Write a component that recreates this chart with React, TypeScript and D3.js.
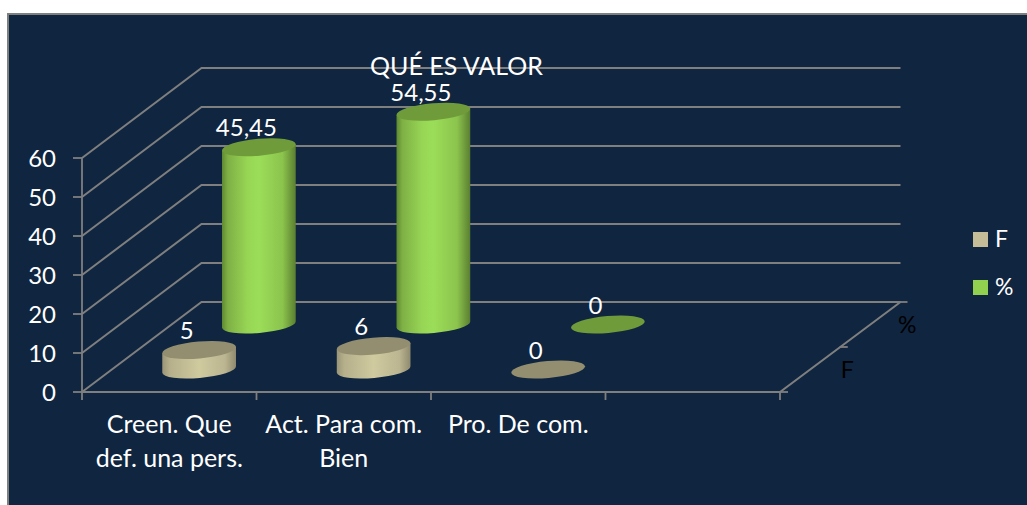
import React from 'react';
import { scaleBand, scaleLinear, line } from 'd3';

const categories = ['Creen. Que|def. una pers.', 'Act. Para com.|Bien', 'Pro. De com.', ' '];
const seriesNames = ['F', '%'];
const valuesF = [5, 6, 0];
const valuesPct = [45.45, 54.55, 0];
const yTicks = [0, 10, 20, 30, 40, 50, 60];

const W = 1027;
const H = 505;
const FONT = 'Lato, "Open Sans", sans-serif';
const GRID = '#7f7f7f';

// floor of the 3D box
const x0 = 82;
const x1 = 780;
const yBase = 392;
const yTop = 158;
const depthX = 119.5;
const depthY = 90;

const xScale = scaleBand<string>().domain(categories).range([x0, x1]);
const yScale = scaleLinear().domain([0, 60]).range([yBase, yTop]);
const zScale = scaleBand<string>().domain(seriesNames).range([0, 1]);

const path = line();
const rx = 37;
const ry = 8.5;
const tilt = -5;

const skins = {
  F: { top: '#938e70', grad: 'gradF', legend: '#c4bd97' },
  '%': { top: '#6f9b3a', grad: 'gradP', legend: '#92d050' },
};

const fmt = (v: number) => String(v).replace('.', ',');

const Cylinder = ({ cat, series, value }: { cat: string; series: string; value: number }) => {
  const z = zScale(series)! + zScale.bandwidth() / 2;
  const cx = xScale(cat)! + xScale.bandwidth() / 2 + z * depthX;
  const cy = yBase - z * depthY;
  const h = yBase - yScale(value);
  const dx = rx * Math.cos((tilt * Math.PI) / 180);
  const dy = rx * Math.sin((tilt * Math.PI) / 180);
  const skin = skins[series];
  const body =
    `M${cx - dx},${cy - dy - h}L${cx - dx},${cy - dy}` +
    `A${rx},${ry} ${tilt} 0 0 ${cx + dx},${cy + dy}` +
    `L${cx + dx},${cy + dy - h}Z`;
  return (
    <g>
      {value > 0 && <path d={body} fill={`url(#${skin.grad})`} />}
      <ellipse
        rx={rx}
        ry={ry}
        fill={skin.top}
        transform={`translate(${cx},${cy - h}) rotate(${tilt})`}
      />
      <text
        x={cx - 12.5}
        y={cy - h - 11}
        textAnchor="middle"
        fontSize={24}
        fill="#fff"
        fontFamily={FONT}
      >
        {fmt(value)}
      </text>
    </g>
  );
};

export default function App() {
  const labelled = categories.slice(0, 3);
  return (
    <svg
      width={W}
      height={H}
      style={{ position: 'absolute', left: 0, top: 0, display: 'block' }}
    >
      <defs>
        <linearGradient id="gradF" x1="0" x2="1" y1="0" y2="0">
          <stop offset="0" stopColor="#9a9578" />
          <stop offset="0.1" stopColor="#b5af8b" />
          <stop offset="0.5" stopColor="#d0ca9f" />
          <stop offset="0.85" stopColor="#bbb591" />
          <stop offset="1" stopColor="#8f8a6e" />
        </linearGradient>
        <linearGradient id="gradP" x1="0" x2="1" y1="0" y2="0">
          <stop offset="0" stopColor="#5f8a32" />
          <stop offset="0.08" stopColor="#7fb045" />
          <stop offset="0.35" stopColor="#97d655" />
          <stop offset="0.5" stopColor="#9bdd58" />
          <stop offset="0.82" stopColor="#8cc44e" />
          <stop offset="1" stopColor="#5a7f30" />
        </linearGradient>
      </defs>

      <rect x={8} y={14} width={W} height={H} fill="#10253f" stroke={GRID} strokeWidth={2} />

      {/* walls */}
      {yTicks.map((t) => {
        const y = yScale(t);
        return (
          <g key={t}>
            <path
              d={path([[x0, y], [x0 + depthX, y - depthY], [x1 + depthX + 1, y - depthY]])!}
              fill="none"
              stroke={GRID}
              strokeWidth={2}
            />
            <line x1={x0 - 9} x2={x0} y1={y} y2={y} stroke={GRID} strokeWidth={1.8} />
            <text
              x={56}
              y={y + 9}
              textAnchor="end"
              fontSize={24}
              fill="#fff"
              fontFamily={FONT}
            >
              {t}
            </text>
          </g>
        );
      })}

      {/* axes */}
      <line x1={x0} x2={x0} y1={yTop} y2={yBase + 8} stroke={GRID} strokeWidth={1.8} />
      <path
        d={path([[x0, yBase], [x1, yBase], [x1 + depthX + 1, yBase - depthY]])!}
        fill="none"
        stroke={GRID}
        strokeWidth={2}
      />
      {categories.map((c) => (
        <line
          key={c}
          x1={xScale(c)! + xScale.bandwidth()}
          x2={xScale(c)! + xScale.bandwidth()}
          y1={yBase}
          y2={yBase + 8}
          stroke={GRID}
          strokeWidth={1.8}
        />
      ))}
      {[0, 0.5, 1].map((z) => (
        <line
          key={z}
          x1={x1 + z * depthX}
          x2={x1 + z * depthX + 8}
          y1={yBase - z * depthY}
          y2={yBase - z * depthY}
          stroke={GRID}
          strokeWidth={1.8}
        />
      ))}

      {/* back row first so the front row sits on top */}
      {labelled.map((c, i) => (
        <Cylinder key={c} cat={c} series="%" value={valuesPct[i]} />
      ))}
      {labelled.map((c, i) => (
        <Cylinder key={c} cat={c} series="F" value={valuesF[i]} />
      ))}

      <text
        x={456.5}
        y={75}
        textAnchor="middle"
        fontSize={25}
        fill="#fff"
        fontFamily={FONT}
      >
        QUÉ ES VALOR
      </text>

      {labelled.map((c) =>
        c.split('|').map((part, i) => (
          <text
            key={part}
            x={xScale(c)! + xScale.bandwidth() / 2}
            y={433 + i * 33.5}
            textAnchor="middle"
            fontSize={25}
            fill="#fff"
            fontFamily={FONT}
          >
            {part}
          </text>
        ))
      )}

      {/* depth axis labels */}
      {seriesNames.map((s) => {
        const z = zScale(s)! + zScale.bandwidth() / 2;
        return (
          <text
            key={s}
            x={x1 + z * depthX + 37.5}
            y={yBase - z * depthY + 8.5}
            textAnchor="middle"
            fontSize={23}
            fill="#000"
            fontFamily={FONT}
          >
            {s}
          </text>
        );
      })}

      {/* legend */}
      {seriesNames.map((s, i) => (
        <g key={s} transform={`translate(973,${232 + i * 48})`}>
          <rect width={15} height={15} fill={skins[s].legend} />
          <text x={22} y={15} fontSize={23} fill="#fff" fontFamily={FONT}>
            {s}
          </text>
        </g>
      ))}
    </svg>
  );
}
